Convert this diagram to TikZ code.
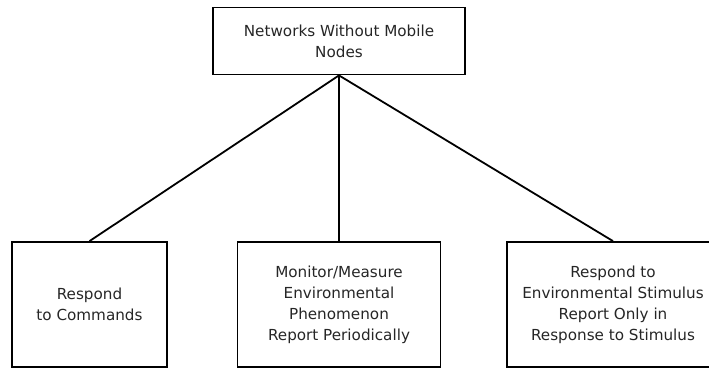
\documentclass[tikz,border=0pt]{standalone}
\usepackage{fontspec}
\setmainfont{DejaVu Sans}
\begin{document}
\begin{tikzpicture}[x=1pt,y=-1pt,
  box/.style={draw=black, line width=1.8pt, rectangle, align=center,
    inner sep=0pt, text=black!85,
    font=\fontsize{15.2}{21}\selectfont},
  link/.style={draw=black, line width=1.8pt}]
  \useasboundingbox (0,0) rectangle (709,369);
  \clip (0,0) rectangle (709,369);
  \node[box, minimum width=252, minimum height=67] (root) at (339,41)
    {Networks Without Mobile\\Nodes};
  \node[box, minimum width=155, minimum height=125] (cmd) at (89.5,304.5)
    {Respond\\to Commands};
  \node[box, minimum width=203, minimum height=125] (mon) at (339,304.5)
    {Monitor/Measure\\Environmental\\Phenomenon\\Report Periodically};
  \node[box, minimum width=212, minimum height=125] (stim) at (613,304.5)
    {Respond to\\Environmental Stimulus\\Report Only in\\Response to Stimulus};
  \draw[link] (root.south) -- (cmd.north);
  \draw[link] (root.south) -- (mon.north);
  \draw[link] (root.south) -- (stim.north);
\end{tikzpicture}
\end{document}
